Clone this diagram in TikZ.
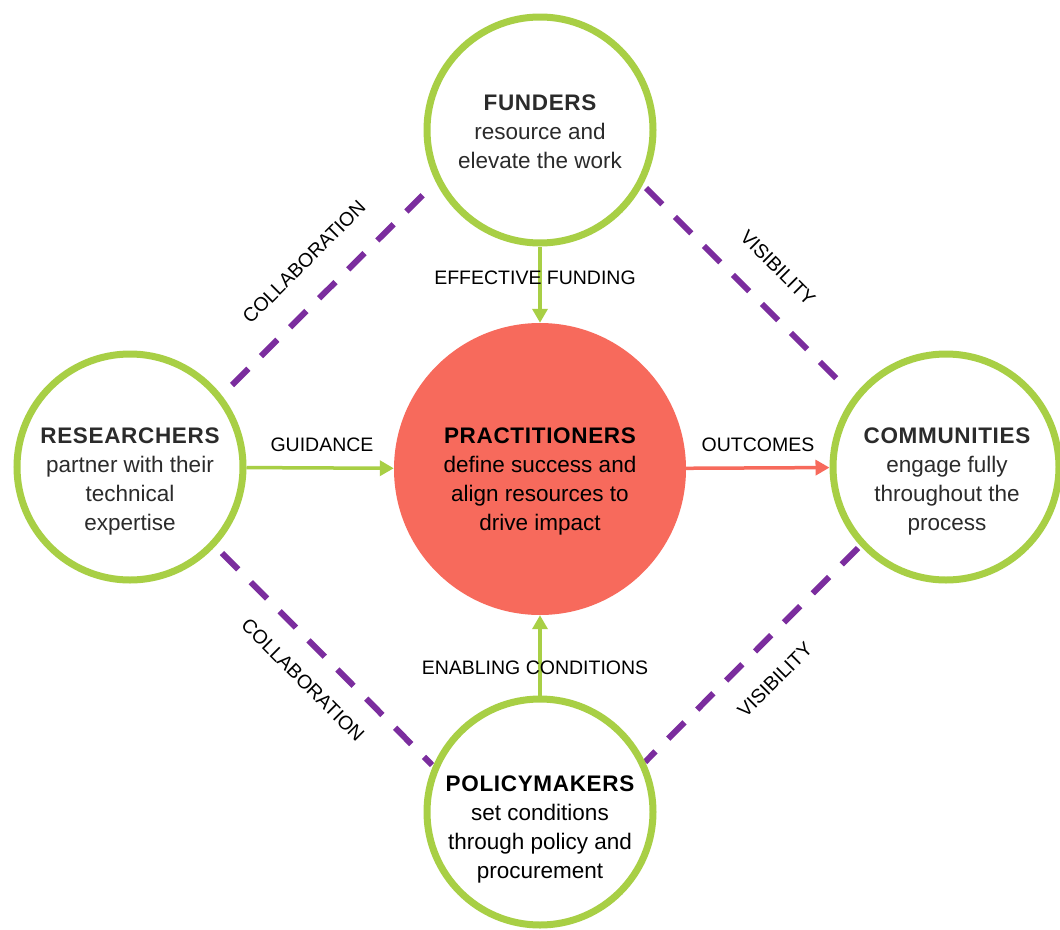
\documentclass[tikz,border=0pt]{standalone}
\usepackage{fontspec}
\setmainfont{Liberation Sans}
\newfontfamily\headfont{Liberation Sans}[LetterSpace=3]
\usetikzlibrary{arrows.meta}
\definecolor{lime}{HTML}{A8CF45}
\definecolor{coral}{HTML}{F76A5C}
\definecolor{violet}{HTML}{7B2D9E}
\definecolor{darktext}{HTML}{2B2B2B}
\newcommand{\hd}[1]{{\headfont\bfseries #1}}
\begin{document}
\begin{tikzpicture}[x=1pt,y=-1pt,
  ring/.style={circle,draw=lime,line width=7pt,fill=white,minimum size=226pt,inner sep=0pt},
  core/.style={circle,fill=coral,minimum size=292pt,inner sep=0pt},
  body/.style={align=center,font=\fontsize{22.5}{29}\selectfont,text=darktext},
  lbl/.style={font=\fontsize{19.5}{21}\selectfont,text=black,inner sep=0pt},
  flow/.style={line width=3.5pt,-{Triangle[length=14pt,width=15pt]}},
  link/.style={violet,line width=6pt,dash pattern=on 23pt off 18pt}]
\useasboundingbox (0,0) rectangle (1060,929);
\fill[white] (0,0) rectangle (1060,929);
% dashed links behind
\coordinate (l1a) at (232,385); \coordinate (l1b) at (430,188);
\coordinate (l2a) at (646,188); \coordinate (l2b) at (843,385);
\coordinate (l3a) at (222,553); \coordinate (l3b) at (432,765);
\coordinate (l4a) at (858,548); \coordinate (l4b) at (645,762);
\draw[link] (l1a) -- (l1b);
\draw[link] (l2a) -- (l2b);
\draw[link] (l3a) -- (l3b);
\draw[link] (l4a) -- (l4b);
% circles
\node[ring] (fund) at (540,130) {};
\node[ring] (res) at (130,467) {};
\node[ring] (com) at (946,467) {};
\node[ring] (pol) at (540,812) {};
\node[core] (prac) at (540,469) {};
% texts
\node[body] (tfund) at (540,132) {\hd{FUNDERS}\\resource and\\elevate the work};
\node[body] (tres) at (130,481) {\hd{RESEARCHERS}\\partner with their\\technical\\expertise};
\node[body,text=black] (tprac) at (540,481) {\hd{PRACTITIONERS}\\define success and\\align resources to\\drive impact};
\node[body] (tcom) at (947,481) {\hd{COMMUNITIES}\\engage fully\\throughout the\\process};
\node[body,text=black] (tpol) at (540,829) {\hd{POLICYMAKERS}\\set conditions\\through policy and\\procurement};
% arrows
\draw[flow,lime] (fund) -- (prac);
\draw[flow,lime] (res) -- (prac);
\draw[flow,lime] (pol) -- (prac);
\draw[flow,coral] (prac) -- (com);
% labels
\node[lbl] (a1) at (535,278) {EFFECTIVE FUNDING};
\node[lbl] (a2) at (322,445) {GUIDANCE};
\node[lbl] (a3) at (758,445) {OUTCOMES};
\node[lbl] (a4) at (535,668) {ENABLING CONDITIONS};
\node[lbl,rotate=45] (c1) at (304,262) {COLLABORATION};
\node[lbl,rotate=-45] (c2) at (778,268) {VISIBILITY};
\node[lbl,rotate=-45] (c3) at (303,680) {COLLABORATION};
\node[lbl,rotate=45] (c4) at (775,680) {VISIBILITY};
\end{tikzpicture}
\end{document}
